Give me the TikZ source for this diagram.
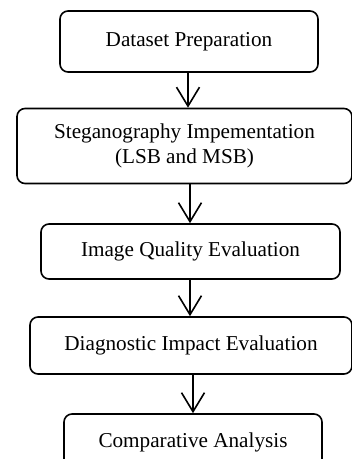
\documentclass[tikz,border=0pt]{standalone}
\usepackage{fontspec}
\setmainfont{Liberation Serif}
\usetikzlibrary{arrows.meta}
\begin{document}
\begin{tikzpicture}[x=1pt,y=-1pt,
  stage/.style={draw=black, line width=1.6pt, rounded corners=8pt,
    align=center, inner sep=0pt, font=\fontsize{21.2}{25}\selectfont},
  flow/.style={draw=black, line width=1.6pt,
    -{Straight Barb[length=19pt,width=23pt,line width=1.6pt]}}]
  \useasboundingbox (0,0) rectangle (352,459);
  \clip (0,0) rectangle (352,459);

  \node[stage, minimum width=258pt, minimum height=61pt] (prep) at (189,41.5) {Dataset Preparation};
  \node[stage, minimum width=335pt, minimum height=75pt] (steg) at (184.5,146) {Steganography Impementation\\(LSB and MSB)};
  \node[stage, minimum width=299pt, minimum height=55pt] (qual) at (190.5,251.5) {Image Quality Evaluation};
  \node[stage, minimum width=322pt, minimum height=57pt] (diag) at (191,345.5) {Diagnostic Impact Evaluation};
  \node[stage, minimum width=258pt, minimum height=56pt] (comp) at (193,442) {Comparative Analysis};

  \draw[flow] ([xshift=-1pt]prep.south) -- ([xshift=-1pt]prep.south |- steg.north);
  \draw[flow] ([xshift=5.5pt]steg.south) -- ([xshift=5.5pt]steg.south |- qual.north);
  \draw[flow] ([xshift=-0.5pt]qual.south) -- ([xshift=-0.5pt]qual.south |- diag.north);
  \draw[flow] ([xshift=2pt]diag.south) -- ([xshift=2pt]diag.south |- comp.north);
\end{tikzpicture}
\end{document}
